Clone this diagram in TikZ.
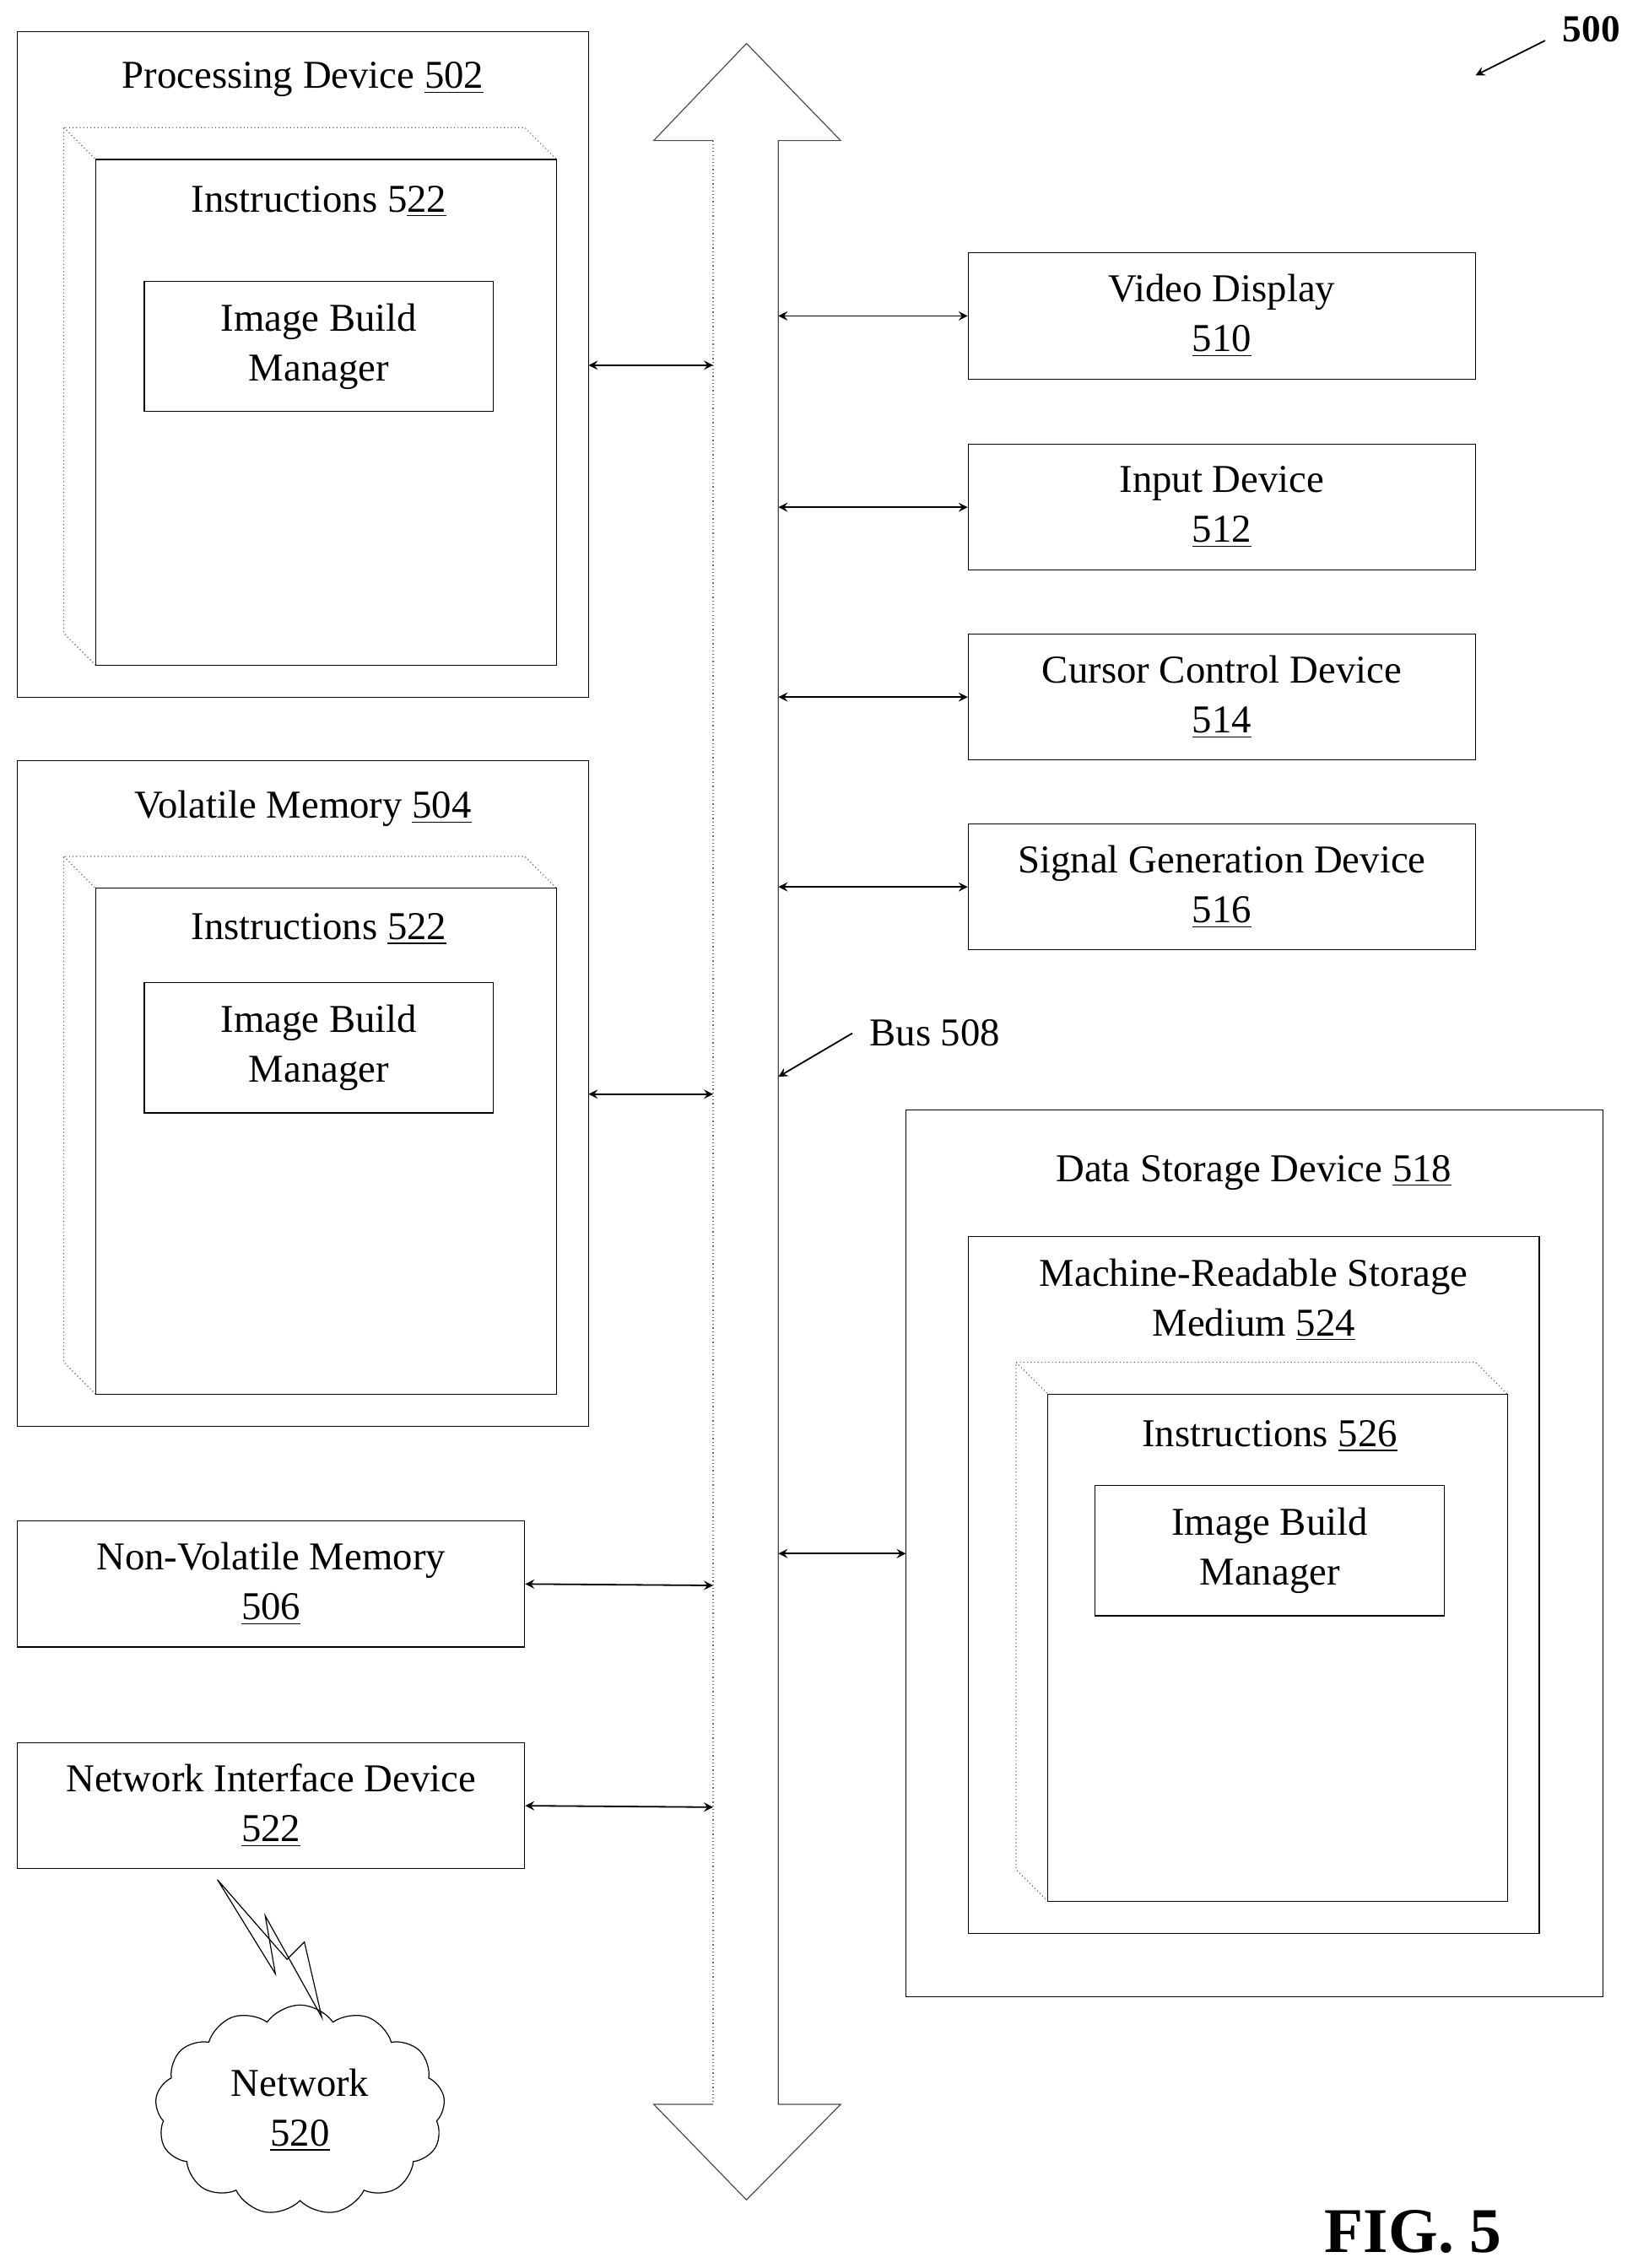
\documentclass[tikz,border=0pt]{standalone}
\usepackage{fontspec}
\setmainfont{Liberation Serif}
\usetikzlibrary{shapes,shapes.symbols,arrows}
\usetikzlibrary{positioning}
\tikzstyle{arrow} = [semithick,<->,>=stealth]
\tikzstyle{box} = [rectangle, draw=black, thin, inner sep=0pt]
\tikzstyle{txt} = [align=center, font=\fontsize{15.5}{19.5}\selectfont, inner sep=0pt]
\tikzstyle{ghost} = [draw=black!60, densely dotted, thin]
\begin{document}
\begin{tikzpicture}[x=0.02cm, y=-0.02cm]
\useasboundingbox (0,0) rectangle (1130,1565);

% left column
\draw [box] (12,22) rectangle (406,481);
\node (proc-title) [txt] at (209,55) {Processing Device \underline{502}};
\draw [ghost] (66,459) -- (44,437) -- (44,88) -- (362,88) -- (384,110);
\draw [ghost] (44,88) -- (66,110);
\draw [box] (66,110) rectangle (384,459);
\node (proc-instr) [txt] at (220,139) {Instructions 5\underline{22}};
\node (proc-ibm) [box, txt, minimum width=4.82cm, minimum height=1.8cm] at (220,239) {Image Build\\Manager};

\draw [box] (12,525) rectangle (406,984);
\node (vol-title) [txt] at (209,558) {Volatile Memory \underline{504}};
\draw [ghost] (66,962) -- (44,940) -- (44,591) -- (362,591) -- (384,613);
\draw [ghost] (44,591) -- (66,613);
\draw [box] (66,613) rectangle (384,962);
\node (vol-instr) [txt] at (220,641) {Instructions \underline{522}};
\node (vol-ibm) [box, txt, minimum width=4.82cm, minimum height=1.8cm] at (220,723) {Image Build\\Manager};

\node (nonvol) [box, txt, minimum width=7cm, minimum height=1.74cm] at (187,1093) {Non-Volatile Memory\\\underline{506}};
\node (netif) [box, txt, minimum width=7cm, minimum height=1.74cm] at (187,1246) {Network Interface Device\\\underline{522}};

\node (network) [cloud, draw, thin, cloud puffs=13, cloud puff arc=110, aspect=1.4,
    minimum width=4cm, minimum height=2.9cm, txt] at (207,1456) {Network\\\underline{520}};
\draw [thin] (150,1297) -- (190,1362) -- (183,1322) -- (222,1392)
    -- (210,1340) -- (198,1352) -- cycle;

% bus
\draw [thin, draw=black!70] (492,1452) -- (451,1452) -- (515,1518) -- (580,1452) -- (537,1452)
    -- (537,97) -- (580,97) -- (515,30) -- (451,97) -- (492,97);
\draw [ghost] (492,97) -- (492,1452);
\coordinate (bus-l1) at (492,252);
\coordinate (bus-l2) at (492,755);
\coordinate (bus-l3) at (492,1094);
\coordinate (bus-l4) at (492,1247);
\draw [arrow] (406,252) -- (bus-l1);
\draw [arrow] (406,755) -- (bus-l2);
\draw [arrow] (nonvol.east) -- (bus-l3);
\draw [arrow] (netif.east) -- (bus-l4);

% right column
\node (video) [box, txt, minimum width=7cm, minimum height=1.74cm] at (843,218) {Video Display\\\underline{510}};
\node (input) [box, txt, minimum width=7cm, minimum height=1.74cm] at (843,350) {Input Device\\\underline{512}};
\node (cursor) [box, txt, minimum width=7cm, minimum height=1.74cm] at (843,481) {Cursor Control Device\\\underline{514}};
\node (signal) [box, txt, minimum width=7cm, minimum height=1.74cm] at (843,612) {Signal Generation Device\\\underline{516}};
\foreach \n in {video,input,cursor,signal}
    \draw [arrow] (\n.west) -- (\n.west -| 537,0);

\node (bus-label) [txt] at (645,713) {Bus 508};
\coordinate (bus-tip) at (537,743);
\draw [semithick,->,>=stealth] (588,713) -- (bus-tip);

\draw [box] (625,766) rectangle (1106,1378);
\node (ds-title) [txt] at (865,809) {Data Storage Device \underline{518}};
\draw [box] (668,853) rectangle (1062,1334);
\node (mrsm-title) [txt] at (865,897) {Machine-Readable Storage\\Medium \underline{524}};
\draw [ghost] (723,1312) -- (701,1290) -- (701,940) -- (1018,940) -- (1040,962);
\draw [ghost] (701,940) -- (723,962);
\draw [box] (723,962) rectangle (1040,1312);
\node (ds-instr) [txt] at (876,991) {Instructions \underline{526}};
\node (ds-ibm) [box, txt, minimum width=4.82cm, minimum height=1.8cm] at (876,1070) {Image Build\\Manager};
\coordinate (bus-r5) at (537,1072);
\draw [arrow] (bus-r5) -- (625,1072);

\node (fig-num) [font=\fontsize{15}{18}\selectfont\bfseries] at (1098,20) {500};
\draw [semithick,->,>=stealth] (1066,28) -- (1018,52);
\node (fig-label) [font=\fontsize{25}{30}\selectfont\bfseries] at (975,1540) {FIG. 5};
\end{tikzpicture}
\end{document}
